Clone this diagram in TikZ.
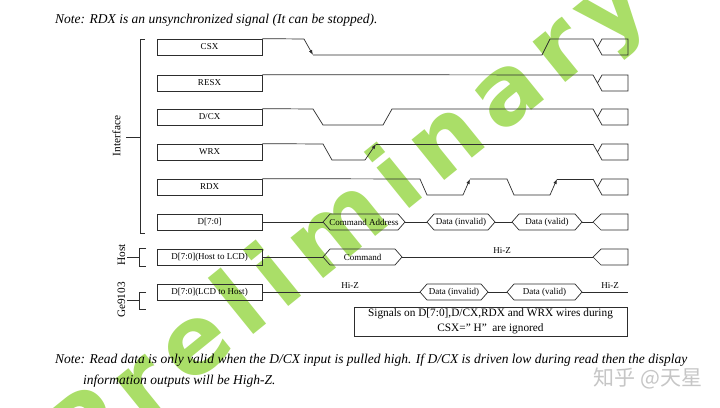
\documentclass[tikz,border=0pt]{standalone}
\usepackage{fontspec}
\setmainfont{Liberation Serif}
\newfontfamily\wmfont{DejaVu Sans}
\newfontfamily\cjkfont{Noto Sans CJK SC}
\usetikzlibrary{arrows.meta}
\definecolor{wmgreen}{RGB}{170,222,104}
\definecolor{inkgray}{RGB}{45,45,45}
\newcommand{\wmsp}{\kern12pt}

\begin{document}
\begin{tikzpicture}[x=1pt,y=-1pt,
  sig/.style={inkgray,line width=0.7pt},
  trig/.style={sig,-{Latex[length=5pt,width=3.5pt]}},
  sigbox/.style={draw=inkgray,line width=0.7pt,minimum width=105pt,minimum height=16pt,inner sep=0pt,font=\fontsize{9}{10}\selectfont},
  lbl/.style={inner sep=0pt,font=\fontsize{9}{10}\selectfont},
  side/.style={inner sep=0pt,font=\fontsize{11.3}{12}\selectfont},
  note/.style={anchor=west,inner sep=0pt,font=\fontsize{13.5}{15}\selectfont\itshape}]

\useasboundingbox (0,0) rectangle (720,407);
\fill[white] (0,0) rectangle (720,407);

\node[wmgreen,rotate=39,font=\wmfont\bfseries\fontsize{95}{95}\selectfont] (wm) at (350,224)
  {P\wmsp r\wmsp e\wmsp l\wmsp i\wmsp m\wmsp i\wmsp n\wmsp a\wmsp r\wmsp y};

\node[note] (topnote) at (55,20) {Note: RDX is an unsynchronized signal (It can be stopped).};

\node[sigbox] (csx) at (209.5,47) {CSX};
\node[sigbox] (resx) at (209.5,83) {RESX};
\node[sigbox] (dcx) at (209.5,117) {D/CX};
\node[sigbox] (wrx) at (209.5,152) {WRX};
\node[sigbox] (rdx) at (209.5,187) {RDX};
\node[sigbox] (data) at (209.5,222) {D[7:0]};
\node[sigbox] (hostd) at (209.5,257) {D[7:0](Host to LCD)};
\node[sigbox] (lcdd) at (209.5,292) {D[7:0](LCD to Host)};

\draw[sig] (145,39) -- (140,39) -- (140,233) -- (145,233);
\draw[sig] (126,137) -- (140,137);
\draw[sig] (146,248) -- (139,248) -- (139,266) -- (146,266);
\draw[sig] (127,257) -- (139,257);
\draw[sig] (146,292) -- (139,292) -- (139,309) -- (146,309);
\draw[sig] (127,300) -- (139,300);
\node[side,rotate=90] (iface) at (116.5,136) {Interface};
\node[side,rotate=90] (host) at (121.5,255) {Host};
\node[side,rotate=90] (chip) at (121.5,300) {Ge9103};

\draw[sig] (csx.north east) -- (304,39);
\draw[trig] (304,39) -- (313,55);
\draw[sig] (313,55) -- (542,55) -- (550,39) -- (593,39);
\draw[sig] (resx.north east) -- (593,75);
\draw[sig] (dcx.north east) -- (313,109) -- (323,125) -- (383,125) -- (392,109) -- (593,109);
\draw[sig] (wrx.north east) -- (323,144) -- (332,160) -- (365,160);
\draw[trig] (365,160) -- (376,144);
\draw[sig] (376,144) -- (593,144);
\draw[sig] (rdx.north east) -- (420,179) -- (427,195) -- (463,195);
\draw[trig] (463,195) -- (470,179);
\draw[sig] (470,179) -- (507,179) -- (514,195) -- (550,195);
\draw[trig] (550,195) -- (557,179);
\draw[sig] (557,179) -- (593,179);

\foreach \t in {39,75,109,144,179}
  \draw[sig] (593,\t) -- (602,\t+16) -- (628,\t+16) -- (628,\t) -- (602,\t) -- (597.5,\t+8);
\foreach \m in {222,257}
  \draw[sig] (593,\m) -- (601,\m-8) -- (628,\m-8) -- (628,\m+8) -- (601,\m+8) -- cycle;

\foreach \a/\b/\m/\txt in {323/405/222/Command Address, 427/495/222/Data (invalid),
    512/582/222/Data (valid), 323/402/257/Command, 420/488/292/Data (invalid), 507/582/292/Data (valid)}{
  \draw[sig] (\a,\m) -- (\a+7,\m-8) -- (\b-7,\m-8) -- (\b,\m) -- (\b-7,\m+8) -- (\a+7,\m+8) -- cycle;
  \node[lbl] at ({(\a+\b)/2},\m) {\txt};
}

\draw[sig] (data.east) -- (323,222);
\draw[sig] (405,222) -- (427,222);
\draw[sig] (495,222) -- (512,222);
\draw[sig] (582,222) -- (593,222);
\draw[sig] (hostd.east) -- (323,257);
\draw[sig] (402,257) -- (593,257);
\draw[sig] (lcdd.east) -- (420,292);
\draw[sig] (488,292) -- (507,292);
\draw[sig] (582,292) -- (628,292);

\node[lbl] (hiz1) at (502,251) {Hi-Z};
\node[lbl] (hiz2) at (350,286) {Hi-Z};
\node[lbl] (hiz3) at (610,286) {Hi-Z};

\node[draw=inkgray,line width=0.7pt,minimum width=273pt,minimum height=29pt,inner sep=0pt,align=center,
  font=\fontsize{11.3}{15}\selectfont] (ignore) at (490.5,321.5)
  {Signals on D[7:0],D/CX,RDX and WRX wires during\\CSX=” H”\ \ are ignored};

\node[note] (botnote) at (55,360) {Note: Read data is only valid when the D/CX input is pulled high. If D/CX is driven low during read then the display};
\node[note] (botnote2) at (83,381) {information outputs will be High-Z.};

\node[gray!45,font=\cjkfont\fontsize{21}{21}\selectfont] (zh) at (648,378) {知乎 @天星};

\end{tikzpicture}
\end{document}
